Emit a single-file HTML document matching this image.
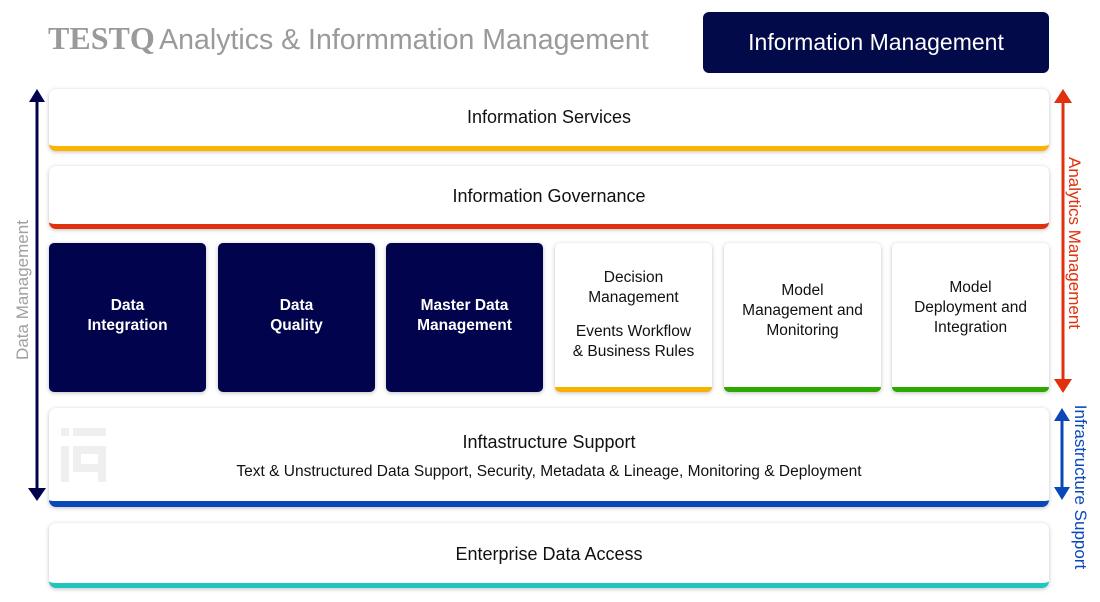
<!DOCTYPE html><html><head><style>
*{margin:0;padding:0;box-sizing:border-box}
body{width:1100px;height:602px;background:#fff;position:relative;overflow:hidden;font-family:"Liberation Sans",sans-serif}
.a{position:absolute}
.row{position:absolute;left:49px;width:1000px;background:#fff;border-radius:7px;box-shadow:0 1px 4px rgba(0,0,0,.25);color:#111;font-size:18px;text-align:center}
.box{position:absolute;top:243px;width:157px;height:149px;border-radius:5px;box-shadow:0 1px 4px rgba(0,0,0,.25);font-size:15.5px;text-align:center;line-height:20px}
.dk{background:#02034d;color:#fff;font-weight:bold;padding-top:53px}
.wt{background:#fff;color:#111}
</style></head><body>
<div class="a" style="left:48px;top:20px;color:#9a9a9a;white-space:nowrap"><span style="font-family:'Liberation Serif',serif;font-weight:bold;font-size:32px">TESTQ</span> <span style="font-size:28.5px">Analytics &amp; Informmation Management</span></div>
<div class="a" style="left:703px;top:12px;width:346px;height:61px;background:#020a4a;border-radius:6px;color:#fff;font-size:23px;display:flex;align-items:center;justify-content:center">Information Management</div>

<div class="row" style="top:89px;height:62px;line-height:57px;border-bottom:5px solid #fbb200">Information Services</div>
<div class="row" style="top:166px;height:63px;line-height:60px;border-bottom:5px solid #e0300d">Information Governance</div>

<div class="box dk" style="left:49px">Data<br>Integration</div>
<div class="box dk" style="left:218px">Data<br>Quality</div>
<div class="box dk" style="left:386px">Master Data<br>Management</div>
<div class="box wt" style="left:555px;border-bottom:5px solid #f9b000;padding-top:25px">Decision<br>Management<br><span style="display:block;height:14px"></span>Events Workflow<br>&amp; Business Rules</div>
<div class="box wt" style="left:724px;border-bottom:5px solid #2ca900;padding-top:38px">Model<br>Management and<br>Monitoring</div>
<div class="box wt" style="left:892px;border-bottom:5px solid #2ca900;padding-top:35px">Model<br>Deployment and<br>Integration</div>

<div class="row" style="top:408px;height:99px;border-bottom:6px solid #0a47b8">
<div style="position:absolute;left:12px;top:20px;width:46px;height:54px">
<div class="a" style="left:0;top:0;width:8px;height:8px;background:#efefef"></div>
<div class="a" style="left:0;top:18px;width:8px;height:36px;background:#efefef"></div>
<div class="a" style="left:12px;top:0;width:33px;height:8px;background:#efefef"></div>
<div class="a" style="left:12px;top:18px;width:33px;height:8px;background:#efefef"></div>
<div class="a" style="left:37px;top:18px;width:8px;height:36px;background:#efefef"></div>
<div class="a" style="left:12px;top:18px;width:8px;height:26px;background:#efefef"></div>
<div class="a" style="left:12px;top:36px;width:33px;height:8px;background:#efefef"></div>
</div>
<div style="position:absolute;left:0;right:0;top:24px">Inftastructure Support</div>
<div style="position:absolute;left:0;right:0;top:55px;font-size:15.5px">Text &amp; Unstructured Data Support, Security, Metadata &amp; Lineage, Monitoring &amp; Deployment</div>
</div>
<div class="row" style="top:523px;height:65px;line-height:62px;border-bottom:5px solid #1fc6bd">Enterprise Data Access</div>

<svg class="a" style="left:0;top:0" width="1100" height="602">
<line x1="37" y1="100" x2="37" y2="490" stroke="#02034d" stroke-width="3"/>
<polygon points="37,89 29,102 45,102" fill="#02034d"/>
<polygon points="37,501 28,488 46,488" fill="#02034d"/>
<line x1="1063" y1="100" x2="1063" y2="383" stroke="#e0300d" stroke-width="3"/>
<polygon points="1063,89 1054,103 1072,103" fill="#e0300d"/>
<polygon points="1063,393 1054,379 1072,379" fill="#e0300d"/>
<line x1="1062" y1="418" x2="1062" y2="490" stroke="#0a47b8" stroke-width="3"/>
<polygon points="1062,408 1054,421 1070,421" fill="#0a47b8"/>
<polygon points="1062,500 1054,487 1070,487" fill="#0a47b8"/>
<text transform="translate(28,290) rotate(-90)" text-anchor="middle" font-family="Liberation Sans,sans-serif" font-size="17" fill="#a0a0a0">Data Management</text>
<text transform="translate(1069,243) rotate(90)" text-anchor="middle" font-family="Liberation Sans,sans-serif" font-size="17" fill="#e0300d">Analytics Management</text>
<text transform="translate(1075,487) rotate(90)" text-anchor="middle" font-family="Liberation Sans,sans-serif" font-size="17" fill="#0a47b8">Infrastructure Support</text>
</svg>
</body></html>
